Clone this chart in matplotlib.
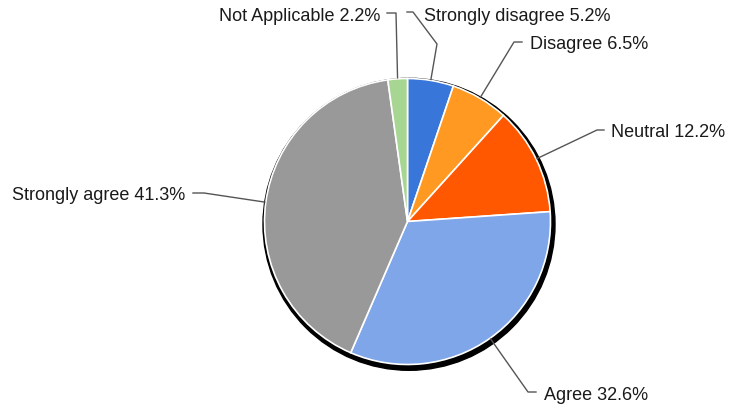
import numpy as np
import matplotlib
matplotlib.use("Agg")
import matplotlib.pyplot as plt
from matplotlib.patches import Circle

# survey answers, clockwise from 12 o'clock
answers = ["Strongly disagree", "Disagree", "Neutral", "Agree",
           "Strongly agree", "Not Applicable"]
shares = [5.2, 6.5, 12.2, 32.6, 41.3, 2.2]
colors = ["#3876d9", "#ff9922", "#ff5800", "#7fa6e8", "#999999", "#a7d592"]

# label layout in pixels: (elbow points of the leader, text anchor, alignment)
leader_bends = [
    [(437, 44), (413, 12), (407, 12)],
    [(514, 42), (522, 42)],
    [(597, 130), (604, 130)],
    [(528, 392), (536, 392)],
    [(204, 193), (193, 193)],
    [(396, 13), (387, 13)],
]
text_pos = [(424, 21), (530, 49), (611, 137), (544, 400), (185, 200), (380, 21)]
text_ha = ["left", "left", "left", "left", "right", "right"]

cx, cy, r = 407.5, 221.5, 143

fig = plt.figure(figsize=(7.33, 4.09), dpi=100)
ax = fig.add_axes([0, 0, 1, 1])

# drop shadow behind the pie
ax.add_patch(Circle((cx + 1.5, cy + 2.8), r + 3, color="black", zorder=0))

# y axis is flipped below, so counterclock here runs clockwise on screen
ax.pie(shares, colors=colors, startangle=-90, counterclock=True,
       center=(cx, cy), radius=r,
       wedgeprops=dict(edgecolor="white", linewidth=1.2))

bounds = np.concatenate(([0], np.cumsum(shares))) / sum(shares) * 360
for i, name in enumerate(answers):
    mid = np.radians((bounds[i] + bounds[i + 1]) / 2)
    x0 = cx + (r + 1) * np.sin(mid)
    y0 = cy - (r + 1) * np.cos(mid)
    pts = [(x0, y0)] + leader_bends[i]
    xs, ys = zip(*pts)
    ax.plot(xs, ys, color="#555555", lw=1.0, zorder=3)
    ax.text(text_pos[i][0], text_pos[i][1], f"{name} {shares[i]:.1f}%",
            ha=text_ha[i], va="baseline", fontsize=13,
            family="Liberation Sans", color="#1a1a1a")

ax.set_xlim(0, 733)
ax.set_ylim(409, 0)
ax.set_aspect("equal")
ax.axis("off")

fig.savefig("out.png", dpi=100, facecolor="white")
